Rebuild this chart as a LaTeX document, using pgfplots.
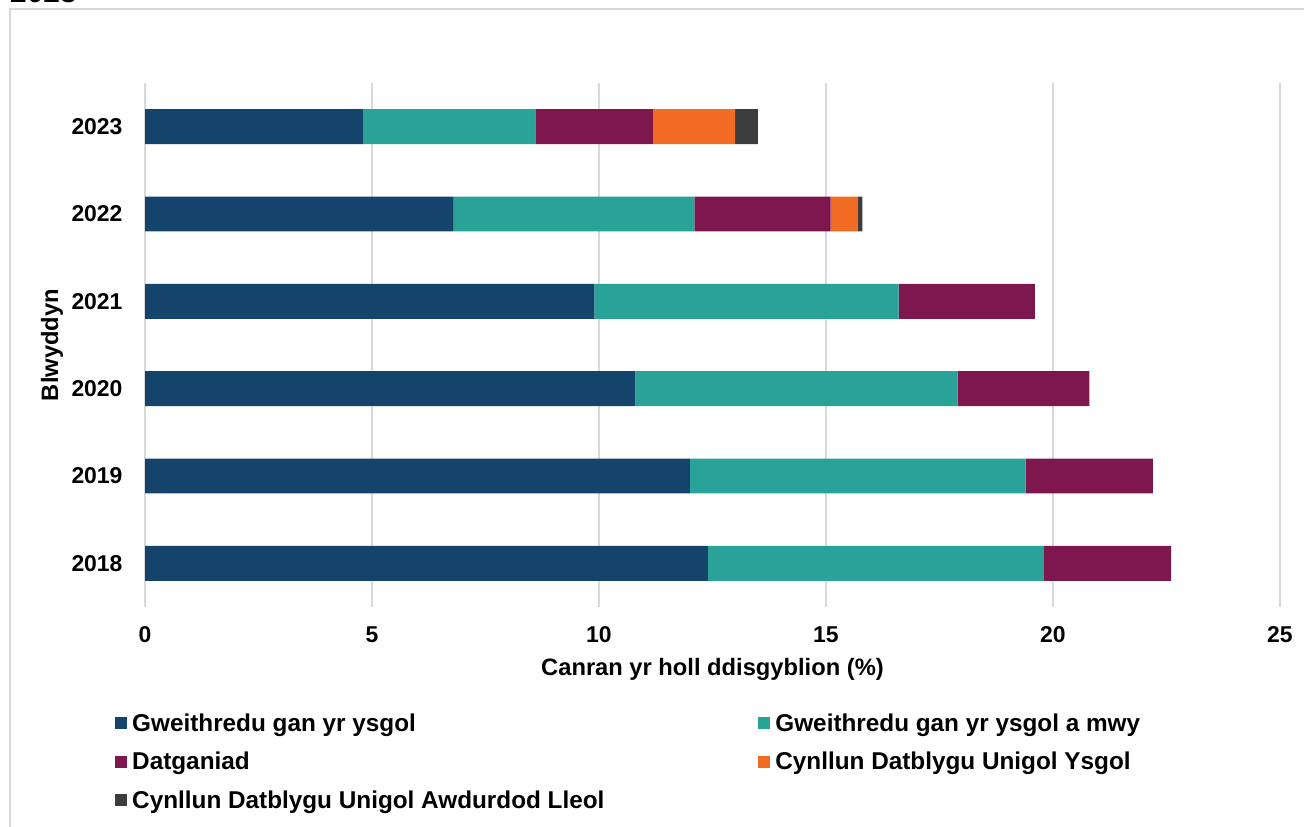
\documentclass[border=0pt]{standalone}
\usepackage{pgfplots}
\pgfplotsset{compat=1.18}
\usepackage{fontspec}
\setmainfont{Liberation Sans}
\definecolor{cnavy}{HTML}{14436B}
\definecolor{cteal}{HTML}{29A398}
\definecolor{cpurple}{HTML}{7F174F}
\definecolor{corange}{HTML}{F36C24}
\definecolor{cgray}{HTML}{3C3C3C}
\definecolor{gridgray}{HTML}{D9D9D9}
\begin{document}
\begin{tikzpicture}
\useasboundingbox (0,0) rectangle (1304bp,-827bp);
\draw[color=gridgray, line width=2bp] (10bp,-830bp) -- (10bp,-9bp) -- (1310bp,-9bp);
\node[anchor=base west, inner sep=0, font=\fontsize{30}{36}\selectfont\bfseries] at (10bp,-2.5bp) {2023};
\begin{axis}[
 at={(145bp,-607bp)}, anchor=south west,
 width=1135bp, height=524bp, scale only axis,
 xbar stacked, bar width=0.4,
 xmin=0, xmax=25, ymin=-0.5, ymax=5.5,
 xtick={0,5,...,25}, ytick={0,...,5},
 yticklabels={2018,2019,2020,2021,2022,2023},
 xmajorgrids, grid style={draw=gridgray, line width=1.8bp},
 axis line style={draw=none},
 major tick length=0,
 tick label style={font=\fontsize{23}{28}\selectfont\bfseries},
 /pgf/number format/assume math mode=true,
 xticklabel style={yshift=-16bp},
 yticklabel style={xshift=-19bp},
 xlabel={Canran yr holl ddisgyblion (\%)},
 ylabel={Blwyddyn},
 label style={font=\fontsize{23.8}{28}\selectfont\bfseries},
 xlabel style={at={(axis description cs:0.5,-0.1195)}, anchor=center},
 ylabel style={at={(axis description cs:-0.0820,0.5)}, anchor=center},
 legend columns=2,
 legend cell align=left,
 legend style={at={(axis description cs:-0.0264,-0.199)}, anchor=north west, draw=none, fill=none, inner sep=0pt,
   font=\fontsize{24.4}{29}\selectfont\bfseries, row sep=15.5bp,
   /tikz/every even column/.append style={column sep=152bp},
   /tikz/every odd column/.append style={column sep=3bp}},
 legend image code/.code={\fill[#1] (0bp,-6bp) rectangle (12bp,6bp);},
]
\addplot[fill=cnavy, draw=none] coordinates {(12.4,0) (12.0,1) (10.8,2) (9.9,3) (6.8,4) (4.8,5)};
\addplot[fill=cteal, draw=none] coordinates {(7.4,0) (7.4,1) (7.1,2) (6.7,3) (5.3,4) (3.8,5)};
\addplot[fill=cpurple, draw=none] coordinates {(2.8,0) (2.8,1) (2.9,2) (3.0,3) (3.0,4) (2.6,5)};
\addplot[fill=corange, draw=none] coordinates {(0,0) (0,1) (0,2) (0,3) (0.6,4) (1.8,5)};
\addplot[fill=cgray, draw=none] coordinates {(0,0) (0,1) (0,2) (0,3) (0.1,4) (0.5,5)};
\legend{Gweithredu gan yr ysgol, Gweithredu gan yr ysgol a mwy, Datganiad, Cynllun Datblygu Unigol Ysgol, Cynllun Datblygu Unigol Awdurdod Lleol}
\end{axis}
\end{tikzpicture}
\end{document}
